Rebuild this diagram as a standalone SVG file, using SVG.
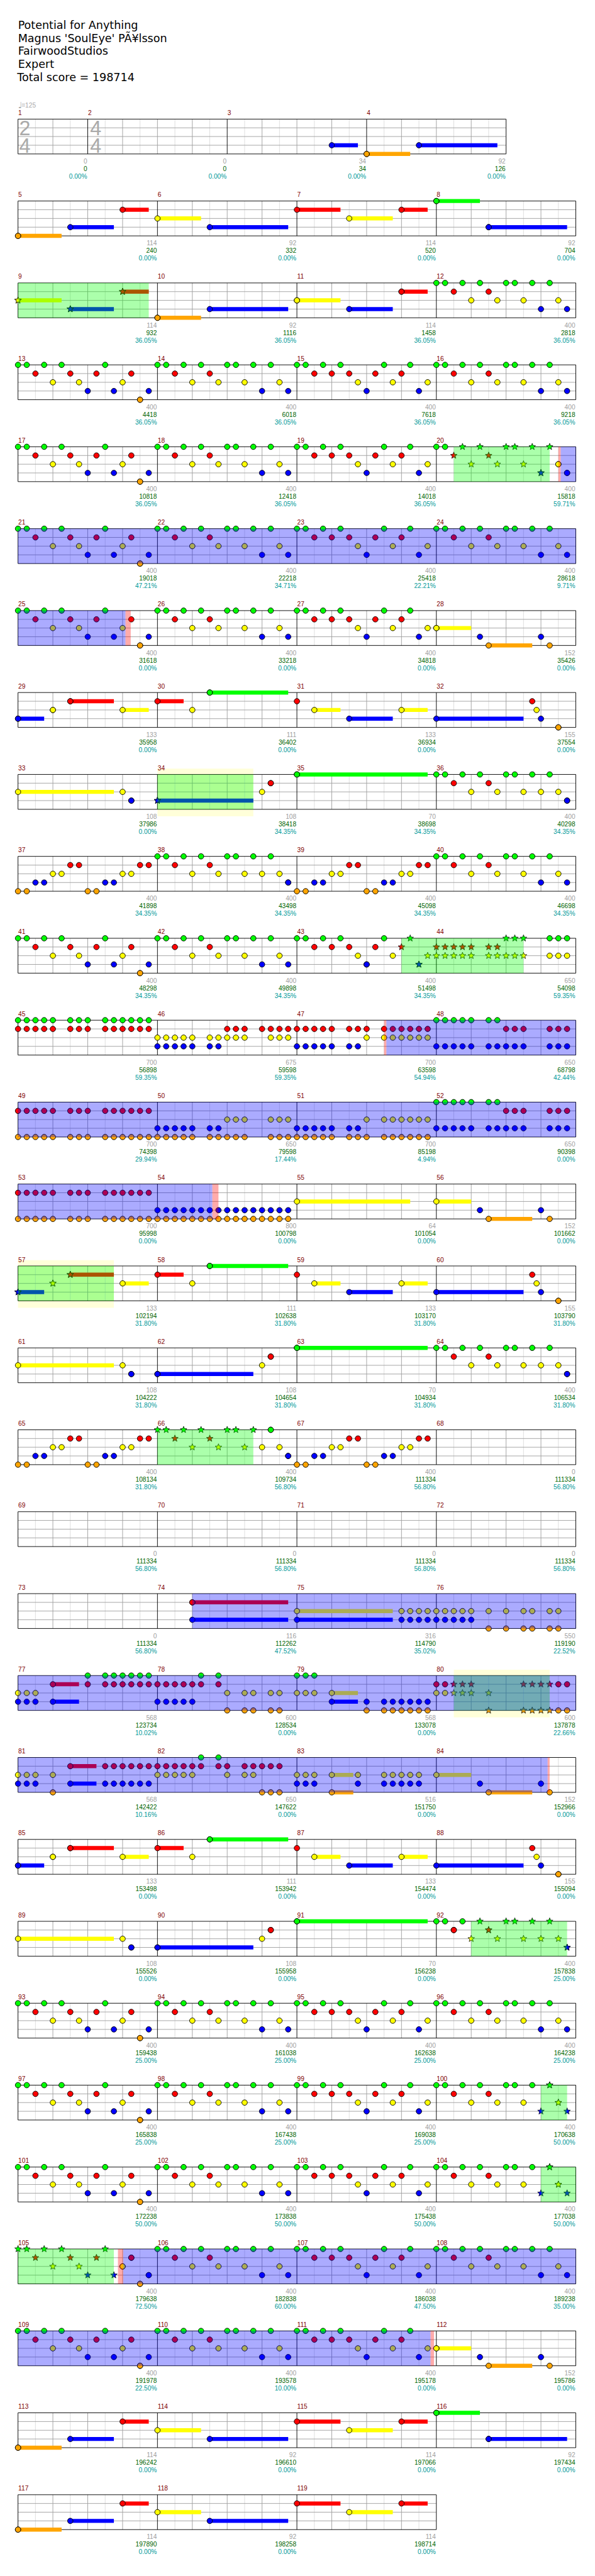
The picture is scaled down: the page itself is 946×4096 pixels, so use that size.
<svg xmlns="http://www.w3.org/2000/svg" width="946" height="4096" viewBox="0 0 946 4096">
<style>
.gl{stroke:#dcdcdc;fill:none}
.gd{stroke:#a0a0a0;fill:none}
.bk{stroke:#000;fill:none}
.x{fill:none;stroke-width:7}
.xG{stroke:#0f0}.xR{stroke:#f00}.xY{stroke:#ff0}.xB{stroke:#00f}.xO{stroke:#ffa500}
.G,.R,.Y,.B,.O,.sG,.sR,.sY,.sB,.sO{fill:none;stroke:none}
.G{marker-start:url(#nG);marker-mid:url(#nG);marker-end:url(#nG)}
.R{marker-start:url(#nR);marker-mid:url(#nR);marker-end:url(#nR)}
.Y{marker-start:url(#nY);marker-mid:url(#nY);marker-end:url(#nY)}
.B{marker-start:url(#nB);marker-mid:url(#nB);marker-end:url(#nB)}
.O{marker-start:url(#nO);marker-mid:url(#nO);marker-end:url(#nO)}
.sG{marker-start:url(#tG);marker-mid:url(#tG);marker-end:url(#tG)}
.sR{marker-start:url(#tR);marker-mid:url(#tR);marker-end:url(#tR)}
.sY{marker-start:url(#tY);marker-mid:url(#tY);marker-end:url(#tY)}
.sB{marker-start:url(#tB);marker-mid:url(#tB);marker-end:url(#tB)}
.sO{marker-start:url(#tO);marker-mid:url(#tO);marker-end:url(#tO)}
.sp{fill:#0f0;fill-opacity:.33}.od{fill:#00f;fill-opacity:.33}.pk{fill:#f00;fill-opacity:.33}.yl{fill:#ff0;fill-opacity:.15}
.M{font:11px 'Liberation Sans',Arial,sans-serif;fill:#800000}
.L{font:11px 'Liberation Sans',Arial,sans-serif;fill:#a0a0a0;text-anchor:end}
.c2{fill:#006400}.c3{fill:#009999}
.H{font:19px 'DejaVu Sans',sans-serif;fill:#000}
.TS{font:35px 'Liberation Sans',Arial,sans-serif;fill:#aaa}
</style>
<defs>
<path id="st" d="M0-6L1.5-2.1L5.7-1.9L2.5.8L3.5 4.9L0 2.6L-3.5 4.9L-2.5.8L-5.7-1.9L-1.5-2.1Z"/>
<marker id="nG" markerUnits="userSpaceOnUse" markerWidth="12" markerHeight="12" refX="6" refY="6" overflow="visible"><circle cx="6" cy="6" r="4.7" fill="#0f0" stroke="#000"/></marker>
<marker id="nR" markerUnits="userSpaceOnUse" markerWidth="12" markerHeight="12" refX="6" refY="6" overflow="visible"><circle cx="6" cy="6" r="4.7" fill="#f00" stroke="#000"/></marker>
<marker id="nY" markerUnits="userSpaceOnUse" markerWidth="12" markerHeight="12" refX="6" refY="6" overflow="visible"><circle cx="6" cy="6" r="4.7" fill="#ff0" stroke="#000"/></marker>
<marker id="nB" markerUnits="userSpaceOnUse" markerWidth="12" markerHeight="12" refX="6" refY="6" overflow="visible"><circle cx="6" cy="6" r="4.7" fill="#00f" stroke="#000"/></marker>
<marker id="nO" markerUnits="userSpaceOnUse" markerWidth="12" markerHeight="12" refX="6" refY="6" overflow="visible"><circle cx="6" cy="6" r="4.7" fill="#ffa500" stroke="#000"/></marker>
<marker id="tG" markerUnits="userSpaceOnUse" markerWidth="14" markerHeight="14" refX="7" refY="7" overflow="visible"><use href="#st" x="7" y="7" fill="#0f0" stroke="#000" stroke-width=".8"/></marker>
<marker id="tR" markerUnits="userSpaceOnUse" markerWidth="14" markerHeight="14" refX="7" refY="7" overflow="visible"><use href="#st" x="7" y="7" fill="#f00" stroke="#000" stroke-width=".8"/></marker>
<marker id="tY" markerUnits="userSpaceOnUse" markerWidth="14" markerHeight="14" refX="7" refY="7" overflow="visible"><use href="#st" x="7" y="7" fill="#ff0" stroke="#000" stroke-width=".8"/></marker>
<marker id="tB" markerUnits="userSpaceOnUse" markerWidth="14" markerHeight="14" refX="7" refY="7" overflow="visible"><use href="#st" x="7" y="7" fill="#00f" stroke="#000" stroke-width=".8"/></marker>
<marker id="tO" markerUnits="userSpaceOnUse" markerWidth="14" markerHeight="14" refX="7" refY="7" overflow="visible"><use href="#st" x="7" y="7" fill="#ffa500" stroke="#000" stroke-width=".8"/></marker>
<g id="m"><path class="gl" d="M30 0V60M90 0V60M150 0V60M210 0V60"/><path class="gd" d="M60 0V60M120 0V60M180 0V60"/></g>
<g id="R4"><use href="#m"/><use href="#m" x="240"/><use href="#m" x="480"/><use href="#m" x="720"/><path class="gd" d="M0 15H960M0 30H960M0 45H960"/><path class="bk" d="M0 0H960M0 60H960M0 0V60M240 0V60M480 0V60M720 0V60M960 0V60"/></g>
<g id="R0"><path class="gl" d="M30 0V60M90 0V60"/><path class="gd" d="M60 0V60"/><use href="#m" x="120"/><use href="#m" x="360"/><use href="#m" x="600"/><path class="gd" d="M0 15H840M0 30H840M0 45H840"/><path class="bk" d="M0 0H840M0 60H840M0 0V60M120 0V60M360 0V60M600 0V60M840 0V60"/></g>
<g id="R3"><use href="#m"/><use href="#m" x="240"/><use href="#m" x="480"/><path class="gd" d="M0 15H720M0 30H720M0 45H720"/><path class="bk" d="M0 0H720M0 60H720M0 0V60M240 0V60M480 0V60M720 0V60"/></g>
<g id="PA"><path class="G" d="M0 0H15H45H75H150"/><path class="R" d="M30 15H90H135H195"/><path class="Y" d="M60 30H105H180"/><path class="B" d="M120 45H165H225"/><path class="O" d="M210 60h0"/></g>
<g id="PB"><path class="G" d="M0 0H15H45H75H120H135H165H195"/><path class="R" d="M30 15H90"/><path class="Y" d="M60 30H105H150H210"/><path class="B" d="M180 45H225"/></g>
<g id="PC"><path class="G" d="M0 0H15H45H75H150H195"/><path class="R" d="M30 15H60H90H135H180"/><path class="Y" d="M105 30H165H225"/><path class="B" d="M120 45H210"/></g>
<g id="PE"><path class="G" d="M0 0H15H45H75H120H135H165H195"/><path class="R" d="M30 15H90"/><path class="Y" d="M60 30H105H150H180H210"/><path class="B" d="M225 45h0"/></g>
<g id="PF"><path class="O" d="M0 60H15H120H135"/><path class="B" d="M30 45H45H150H165"/><path class="Y" d="M60 30H75H180H195"/><path class="R" d="M90 15H105H210H225"/></g>
<g id="PBs"><path class="G" d="M0 0H15H45H75H120H135H165"/><path class="R" d="M30 15H90"/><path class="Y" d="M60 30H105H150"/><path class="sG" d="M195 0h0"/><path class="sY" d="M210 30h0"/><path class="sB" d="M180 45H225"/></g>
<g id="S1b"><path class="x xB" d="M0 45H45M570 45H645M720 45H870"/><path class="x xR" d="M90 15H165M240 15H285"/><path class="x xY" d="M180 30H225M510 30H555M660 30H705"/><path class="x xG" d="M330 0H465"/><path class="B" d="M570 45H720H900"/><path class="R" d="M240 15H480H885"/><path class="Y" d="M180 30H300H510H660H892.5"/><path class="G" d="M330 0h0"/><path class="O" d="M930 60h0"/></g>
<g id="S1a"><path class="B" d="M0 45h0"/><path class="Y" d="M60 30h0"/><path class="R" d="M90 15h0"/></g>
<g id="S2a"><path class="x xY" d="M0 30H165"/><path class="x xB" d="M240 45H405"/><path class="x xG" d="M480 0H705"/><path class="Y" d="M0 30H180H420"/><path class="B" d="M195 45h0"/><path class="R" d="M435 15h0"/><path class="G" d="M480 0h0"/></g>
<g id="S3a"><path class="x xO" d="M0 60H75"/><path class="x xB" d="M90 45H165M330 45H465"/><path class="x xR" d="M180 15H225M480 15H555M660 15H705"/><path class="x xY" d="M240 30H315M570 30H645"/><path class="O" d="M0 60h0"/><path class="B" d="M90 45H330"/><path class="R" d="M180 15H480H660"/><path class="Y" d="M240 30H570"/></g>
<g id="S3b"><path class="x xG" d="M720 0H795"/><path class="x xB" d="M810 45H945"/><path class="G" d="M720 0h0"/><path class="B" d="M810 45h0"/></g>
<g id="E28"><path class="x xY" d="M720 30H780"/><path class="x xO" d="M810 60H885"/><path class="Y" d="M720 30h0"/><path class="B" d="M795 45H900"/><path class="O" d="M810 60H915"/></g>
</defs>
<rect width="946" height="4096" fill="#fff"/>
<g transform="scale(.9238)">
<g id="header" class="H"><text x="31" y="49.3">Potential for Anything</text><text x="31" y="72">Magnus 'SoulEye' PÃ¥lsson</text><text x="31" y="94.7">FairwoodStudios</text><text x="31" y="117.3">Expert</text><text x="29.5" y="140">Total score = 198714</text></g>
<g id="tempo"><text x="31" y="186" style="font:15px 'DejaVu Sans',sans-serif;fill:#aaa">♩</text><text x="37" y="185" style="font:11px 'Liberation Sans',sans-serif;fill:#aaa">=125</text></g>

<g id="row0" transform="translate(31,205)"><use href="#R0"/>
<text class="TS"><tspan x="2" y="28">2</tspan><tspan x="2" y="58">4</tspan><tspan x="124" y="28">4</tspan><tspan x="124" y="58">4</tspan></text>
<path class="x xB" d="M540 45H585M690 45H825"/><path class="x xO" d="M600 60H675"/><path class="B" d="M540 45H690"/><path class="O" d="M600 60h0"/>
<text class="M" y="-7"><tspan x=".5">1</tspan><tspan x="120.5">2</tspan><tspan x="360.5">3</tspan><tspan x="600.5">4</tspan></text>
<text class="L" x="119" y="76.5">0<tspan class="c2" x="119" dy="13">0</tspan><tspan class="c3" x="119" dy="13">0.00%</tspan></text>
<text class="L" x="359" y="76.5">0<tspan class="c2" x="359" dy="13">0</tspan><tspan class="c3" x="359" dy="13">0.00%</tspan></text>
<text class="L" x="599" y="76.5">34<tspan class="c2" x="599" dy="13">34</tspan><tspan class="c3" x="599" dy="13">0.00%</tspan></text>
<text class="L" x="839" y="76.5">92<tspan class="c2" x="839" dy="13">126</tspan><tspan class="c3" x="839" dy="13">0.00%</tspan></text>
</g>

<g id="row1" transform="translate(31,346)"><use href="#R4"/>
<use href="#S3a"/><use href="#S3b"/>
<text class="M" y="-7"><tspan x=".5">5</tspan><tspan x="240.5">6</tspan><tspan x="480.5">7</tspan><tspan x="720.5">8</tspan></text>
<text class="L" x="239" y="76.5">114<tspan class="c2" x="239" dy="13">240</tspan><tspan class="c3" x="239" dy="13">0.00%</tspan></text>
<text class="L" x="479" y="76.5">92<tspan class="c2" x="479" dy="13">332</tspan><tspan class="c3" x="479" dy="13">0.00%</tspan></text>
<text class="L" x="719" y="76.5">114<tspan class="c2" x="719" dy="13">520</tspan><tspan class="c3" x="719" dy="13">0.00%</tspan></text>
<text class="L" x="959" y="76.5">92<tspan class="c2" x="959" dy="13">704</tspan><tspan class="c3" x="959" dy="13">0.00%</tspan></text>
</g>

<g id="row2" transform="translate(31,487)"><use href="#R4"/>
<path class="x xY" d="M0 30H75M480 30H555"/><path class="x xB" d="M90 45H165M330 45H465M570 45H645"/><path class="x xR" d="M180 15H225M660 15H705"/><path class="x xO" d="M240 60H315"/>
<path class="sY" d="M0 30h0"/><path class="sB" d="M90 45h0"/><path class="sR" d="M180 15h0"/><path class="O" d="M240 60h0"/><path class="B" d="M330 45H570"/><path class="Y" d="M480 30h0"/><path class="R" d="M660 15h0"/>
<use href="#PB" x="720"/>
<rect class="sp" width="225" height="60"/>
<text class="M" y="-7"><tspan x=".5">9</tspan><tspan x="240.5">10</tspan><tspan x="480.5">11</tspan><tspan x="720.5">12</tspan></text>
<text class="L" x="239" y="76.5">114<tspan class="c2" x="239" dy="13">932</tspan><tspan class="c3" x="239" dy="13">36.05%</tspan></text>
<text class="L" x="479" y="76.5">92<tspan class="c2" x="479" dy="13">1116</tspan><tspan class="c3" x="479" dy="13">36.05%</tspan></text>
<text class="L" x="719" y="76.5">114<tspan class="c2" x="719" dy="13">1458</tspan><tspan class="c3" x="719" dy="13">36.05%</tspan></text>
<text class="L" x="959" y="76.5">400<tspan class="c2" x="959" dy="13">2818</tspan><tspan class="c3" x="959" dy="13">36.05%</tspan></text>
</g>

<g id="row3" transform="translate(31,628)"><use href="#R4"/>
<use href="#PA"/><use href="#PB" x="240"/><use href="#PC" x="480"/><use href="#PB" x="720"/>
<text class="M" y="-7"><tspan x=".5">13</tspan><tspan x="240.5">14</tspan><tspan x="480.5">15</tspan><tspan x="720.5">16</tspan></text>
<text class="L" x="239" y="76.5">400<tspan class="c2" x="239" dy="13">4418</tspan><tspan class="c3" x="239" dy="13">36.05%</tspan></text>
<text class="L" x="479" y="76.5">400<tspan class="c2" x="479" dy="13">6018</tspan><tspan class="c3" x="479" dy="13">36.05%</tspan></text>
<text class="L" x="719" y="76.5">400<tspan class="c2" x="719" dy="13">7618</tspan><tspan class="c3" x="719" dy="13">36.05%</tspan></text>
<text class="L" x="959" y="76.5">400<tspan class="c2" x="959" dy="13">9218</tspan><tspan class="c3" x="959" dy="13">36.05%</tspan></text>
</g>

<g id="row4" transform="translate(31,769)"><use href="#R4"/>
<use href="#PA"/><use href="#PB" x="240"/><use href="#PC" x="480"/>
<path class="G" d="M720 0H735"/><path class="sG" d="M765 0H795H840H855H885H915"/><path class="sR" d="M750 15H810"/><path class="sY" d="M780 30H825H870"/><path class="Y" d="M930 30h0"/><path class="sB" d="M900 45h0"/><path class="B" d="M945 45h0"/>
<rect class="sp" x="750" width="165" height="60"/><rect class="pk" x="930" width="4" height="60"/><rect class="od" x="934" width="26" height="60"/>
<text class="M" y="-7"><tspan x=".5">17</tspan><tspan x="240.5">18</tspan><tspan x="480.5">19</tspan><tspan x="720.5">20</tspan></text>
<text class="L" x="239" y="76.5">400<tspan class="c2" x="239" dy="13">10818</tspan><tspan class="c3" x="239" dy="13">36.05%</tspan></text>
<text class="L" x="479" y="76.5">400<tspan class="c2" x="479" dy="13">12418</tspan><tspan class="c3" x="479" dy="13">36.05%</tspan></text>
<text class="L" x="719" y="76.5">400<tspan class="c2" x="719" dy="13">14018</tspan><tspan class="c3" x="719" dy="13">36.05%</tspan></text>
<text class="L" x="959" y="76.5">400<tspan class="c2" x="959" dy="13">15818</tspan><tspan class="c3" x="959" dy="13">59.71%</tspan></text>
</g>

<g id="row5" transform="translate(31,910)"><use href="#R4"/>
<use href="#PA"/><use href="#PB" x="240"/><use href="#PC" x="480"/><use href="#PB" x="720"/>
<rect class="od" width="960" height="60"/>
<text class="M" y="-7"><tspan x=".5">21</tspan><tspan x="240.5">22</tspan><tspan x="480.5">23</tspan><tspan x="720.5">24</tspan></text>
<text class="L" x="239" y="76.5">400<tspan class="c2" x="239" dy="13">19018</tspan><tspan class="c3" x="239" dy="13">47.21%</tspan></text>
<text class="L" x="479" y="76.5">400<tspan class="c2" x="479" dy="13">22218</tspan><tspan class="c3" x="479" dy="13">34.71%</tspan></text>
<text class="L" x="719" y="76.5">400<tspan class="c2" x="719" dy="13">25418</tspan><tspan class="c3" x="719" dy="13">22.21%</tspan></text>
<text class="L" x="959" y="76.5">400<tspan class="c2" x="959" dy="13">28618</tspan><tspan class="c3" x="959" dy="13">9.71%</tspan></text>
</g>

<g id="row6" transform="translate(31,1051)"><use href="#R4"/>
<use href="#PA"/><use href="#PB" x="240"/><use href="#PC" x="480"/><use href="#E28"/>
<rect class="od" width="185" height="60"/><rect class="pk" x="185" width="9" height="60"/>
<text class="M" y="-7"><tspan x=".5">25</tspan><tspan x="240.5">26</tspan><tspan x="480.5">27</tspan><tspan x="720.5">28</tspan></text>
<text class="L" x="239" y="76.5">400<tspan class="c2" x="239" dy="13">31618</tspan><tspan class="c3" x="239" dy="13">0.00%</tspan></text>
<text class="L" x="479" y="76.5">400<tspan class="c2" x="479" dy="13">33218</tspan><tspan class="c3" x="479" dy="13">0.00%</tspan></text>
<text class="L" x="719" y="76.5">400<tspan class="c2" x="719" dy="13">34818</tspan><tspan class="c3" x="719" dy="13">0.00%</tspan></text>
<text class="L" x="959" y="76.5">152<tspan class="c2" x="959" dy="13">35426</tspan><tspan class="c3" x="959" dy="13">0.00%</tspan></text>
</g>

<g id="row7" transform="translate(31,1192)"><use href="#R4"/>
<use href="#S1b"/><use href="#S1a"/>
<text class="M" y="-7"><tspan x=".5">29</tspan><tspan x="240.5">30</tspan><tspan x="480.5">31</tspan><tspan x="720.5">32</tspan></text>
<text class="L" x="239" y="76.5">133<tspan class="c2" x="239" dy="13">35958</tspan><tspan class="c3" x="239" dy="13">0.00%</tspan></text>
<text class="L" x="479" y="76.5">111<tspan class="c2" x="479" dy="13">36402</tspan><tspan class="c3" x="479" dy="13">0.00%</tspan></text>
<text class="L" x="719" y="76.5">133<tspan class="c2" x="719" dy="13">36934</tspan><tspan class="c3" x="719" dy="13">0.00%</tspan></text>
<text class="L" x="959" y="76.5">155<tspan class="c2" x="959" dy="13">37554</tspan><tspan class="c3" x="959" dy="13">0.00%</tspan></text>
</g>

<g id="row8" transform="translate(31,1333)"><rect class="yl" x="240" y="-10" width="165" height="82"/><use href="#R4"/>
<use href="#S2a"/><use href="#PE" x="720"/><path class="sB" d="M240 45h0"/>
<rect class="sp" x="240" width="165" height="60"/>
<text class="M" y="-7"><tspan x=".5">33</tspan><tspan x="240.5">34</tspan><tspan x="480.5">35</tspan><tspan x="720.5">36</tspan></text>
<text class="L" x="239" y="76.5">108<tspan class="c2" x="239" dy="13">37986</tspan><tspan class="c3" x="239" dy="13">0.00%</tspan></text>
<text class="L" x="479" y="76.5">108<tspan class="c2" x="479" dy="13">38418</tspan><tspan class="c3" x="479" dy="13">34.35%</tspan></text>
<text class="L" x="719" y="76.5">70<tspan class="c2" x="719" dy="13">38698</tspan><tspan class="c3" x="719" dy="13">34.35%</tspan></text>
<text class="L" x="959" y="76.5">400<tspan class="c2" x="959" dy="13">40298</tspan><tspan class="c3" x="959" dy="13">34.35%</tspan></text>
</g>

<g id="row9" transform="translate(31,1474)"><use href="#R4"/>
<use href="#PF"/><use href="#PE" x="240"/><use href="#PF" x="480"/><use href="#PB" x="720"/>
<text class="M" y="-7"><tspan x=".5">37</tspan><tspan x="240.5">38</tspan><tspan x="480.5">39</tspan><tspan x="720.5">40</tspan></text>
<text class="L" x="239" y="76.5">400<tspan class="c2" x="239" dy="13">41898</tspan><tspan class="c3" x="239" dy="13">34.35%</tspan></text>
<text class="L" x="479" y="76.5">400<tspan class="c2" x="479" dy="13">43498</tspan><tspan class="c3" x="479" dy="13">34.35%</tspan></text>
<text class="L" x="719" y="76.5">400<tspan class="c2" x="719" dy="13">45098</tspan><tspan class="c3" x="719" dy="13">34.35%</tspan></text>
<text class="L" x="959" y="76.5">400<tspan class="c2" x="959" dy="13">46698</tspan><tspan class="c3" x="959" dy="13">34.35%</tspan></text>
</g>

<g id="row10" transform="translate(31,1615)"><use href="#R4"/>
<use href="#PA"/><use href="#PB" x="240"/>
<path class="G" d="M480 0H495H525H555H630H915H930H945"/><path class="R" d="M510 15H540H570H615"/><path class="Y" d="M585 30H645H915H930H945"/><path class="B" d="M600 45h0"/>
<path class="sG" d="M675 0H840H855H870"/><path class="sR" d="M660 15H720H735H750H765H780H810H825"/><path class="sY" d="M705 30H720H735H750H765H780H810H825H840H855H870"/><path class="sB" d="M690 45h0"/>
<rect class="sp" x="660" width="210" height="60"/>
<text class="M" y="-7"><tspan x=".5">41</tspan><tspan x="240.5">42</tspan><tspan x="480.5">43</tspan><tspan x="720.5">44</tspan></text>
<text class="L" x="239" y="76.5">400<tspan class="c2" x="239" dy="13">48298</tspan><tspan class="c3" x="239" dy="13">34.35%</tspan></text>
<text class="L" x="479" y="76.5">400<tspan class="c2" x="479" dy="13">49898</tspan><tspan class="c3" x="479" dy="13">34.35%</tspan></text>
<text class="L" x="719" y="76.5">400<tspan class="c2" x="719" dy="13">51498</tspan><tspan class="c3" x="719" dy="13">34.35%</tspan></text>
<text class="L" x="959" y="76.5">650<tspan class="c2" x="959" dy="13">54098</tspan><tspan class="c3" x="959" dy="13">59.35%</tspan></text>
</g>

<g id="row11" transform="translate(31,1756)"><use href="#R4"/>
<path class="G" d="M0 0H15H30H45H60H90H105H120H150H165H180H195H210H225H720H735H750H765H780H810H825"/>
<path class="R" d="M0 15H15H30H45H60H90H105H120H150H165H180H195H210H225H360H375H390H420H435H450H465H480H495H510H525H540H570H585H600H630H645H660H675H690H705H840H855H870H915H930H945"/>
<path class="Y" d="M240 30H255H270H285H300H330H345H360H375H390H435H450H465H600H630H645H660H675H690H705"/>
<path class="B" d="M240 45H255H270H285H300H330H345H480H495H510H525H540H570H585H720H735H750H765H780H810H825H840H855H870H915H930H945"/>
<rect class="pk" x="630" width="4" height="60"/><rect class="od" x="634" width="326" height="60"/>
<text class="M" y="-7"><tspan x=".5">45</tspan><tspan x="240.5">46</tspan><tspan x="480.5">47</tspan><tspan x="720.5">48</tspan></text>
<text class="L" x="239" y="76.5">700<tspan class="c2" x="239" dy="13">56898</tspan><tspan class="c3" x="239" dy="13">59.35%</tspan></text>
<text class="L" x="479" y="76.5">675<tspan class="c2" x="479" dy="13">59598</tspan><tspan class="c3" x="479" dy="13">59.35%</tspan></text>
<text class="L" x="719" y="76.5">700<tspan class="c2" x="719" dy="13">63598</tspan><tspan class="c3" x="719" dy="13">54.94%</tspan></text>
<text class="L" x="959" y="76.5">650<tspan class="c2" x="959" dy="13">68798</tspan><tspan class="c3" x="959" dy="13">42.44%</tspan></text>
</g>

<g id="row12" transform="translate(31,1897)"><use href="#R4"/>
<path class="G" d="M720 0H735H750H765H780H810H825"/>
<path class="R" d="M0 15H15H30H45H60H90H105H120H150H165H180H195H210H225H840H855H870H915H930H945"/>
<path class="Y" d="M360 30H375H390H435H450H465H600H630H645H660H675H690H705"/>
<path class="B" d="M240 45H255H270H285H300H330H345H480H495H510H525H540H570H585H720H735H750H765H780H810H825H840H855H870H915H930H945"/>
<path class="O" d="M0 60H15H30H45H60H90H105H120H150H165H180H195H210H225H240H255H270H285H300H330H345H360H375H390H435H450H465H480H495H510H525H540H570H585H600H630H645H660H675H690H705"/>
<rect class="od" width="960" height="60"/>
<text class="M" y="-7"><tspan x=".5">49</tspan><tspan x="240.5">50</tspan><tspan x="480.5">51</tspan><tspan x="720.5">52</tspan></text>
<text class="L" x="239" y="76.5">700<tspan class="c2" x="239" dy="13">74398</tspan><tspan class="c3" x="239" dy="13">29.94%</tspan></text>
<text class="L" x="479" y="76.5">650<tspan class="c2" x="479" dy="13">79598</tspan><tspan class="c3" x="479" dy="13">17.44%</tspan></text>
<text class="L" x="719" y="76.5">700<tspan class="c2" x="719" dy="13">85198</tspan><tspan class="c3" x="719" dy="13">4.94%</tspan></text>
<text class="L" x="959" y="76.5">650<tspan class="c2" x="959" dy="13">90398</tspan><tspan class="c3" x="959" dy="13">0.00%</tspan></text>
</g>

<g id="row13" transform="translate(31,2038)"><use href="#R4"/>
<path class="x xY" d="M480 30H675M720 30H780"/><path class="x xO" d="M810 60H885"/>
<path class="R" d="M0 15H15H30H45H60H90H105H120H150H165H180H195H210H225"/>
<path class="Y" d="M480 30H720"/>
<path class="B" d="M240 45H255H270H285H300H315H330H345H360H375H390H405H420H435H450H465H795H900"/>
<path class="O" d="M0 60H15H30H45H60H90H105H120H150H165H180H195H210H225H240H255H270H285H300H315H330H345H360H375H390H405H420H435H450H465H810H915"/>
<rect class="od" width="334.5" height="60"/><rect class="pk" x="334.5" width="10.5" height="60"/>
<text class="M" y="-7"><tspan x=".5">53</tspan><tspan x="240.5">54</tspan><tspan x="480.5">55</tspan><tspan x="720.5">56</tspan></text>
<text class="L" x="239" y="76.5">700<tspan class="c2" x="239" dy="13">95998</tspan><tspan class="c3" x="239" dy="13">0.00%</tspan></text>
<text class="L" x="479" y="76.5">800<tspan class="c2" x="479" dy="13">100798</tspan><tspan class="c3" x="479" dy="13">0.00%</tspan></text>
<text class="L" x="719" y="76.5">64<tspan class="c2" x="719" dy="13">101054</tspan><tspan class="c3" x="719" dy="13">0.00%</tspan></text>
<text class="L" x="959" y="76.5">152<tspan class="c2" x="959" dy="13">101662</tspan><tspan class="c3" x="959" dy="13">0.00%</tspan></text>
</g>

<g id="row14" transform="translate(31,2179)"><rect class="yl" y="-10" width="165" height="82"/><use href="#R4"/>
<use href="#S1b"/><path class="sB" d="M0 45h0"/><path class="sY" d="M60 30h0"/><path class="sR" d="M90 15h0"/>
<rect class="sp" width="165" height="60"/>
<text class="M" y="-7"><tspan x=".5">57</tspan><tspan x="240.5">58</tspan><tspan x="480.5">59</tspan><tspan x="720.5">60</tspan></text>
<text class="L" x="239" y="76.5">133<tspan class="c2" x="239" dy="13">102194</tspan><tspan class="c3" x="239" dy="13">31.80%</tspan></text>
<text class="L" x="479" y="76.5">111<tspan class="c2" x="479" dy="13">102638</tspan><tspan class="c3" x="479" dy="13">31.80%</tspan></text>
<text class="L" x="719" y="76.5">133<tspan class="c2" x="719" dy="13">103170</tspan><tspan class="c3" x="719" dy="13">31.80%</tspan></text>
<text class="L" x="959" y="76.5">155<tspan class="c2" x="959" dy="13">103790</tspan><tspan class="c3" x="959" dy="13">31.80%</tspan></text>
</g>

<g id="row15" transform="translate(31,2320)"><use href="#R4"/>
<use href="#S2a"/><use href="#PE" x="720"/><path class="B" d="M240 45h0"/>
<text class="M" y="-7"><tspan x=".5">61</tspan><tspan x="240.5">62</tspan><tspan x="480.5">63</tspan><tspan x="720.5">64</tspan></text>
<text class="L" x="239" y="76.5">108<tspan class="c2" x="239" dy="13">104222</tspan><tspan class="c3" x="239" dy="13">31.80%</tspan></text>
<text class="L" x="479" y="76.5">108<tspan class="c2" x="479" dy="13">104654</tspan><tspan class="c3" x="479" dy="13">31.80%</tspan></text>
<text class="L" x="719" y="76.5">70<tspan class="c2" x="719" dy="13">104934</tspan><tspan class="c3" x="719" dy="13">31.80%</tspan></text>
<text class="L" x="959" y="76.5">400<tspan class="c2" x="959" dy="13">106534</tspan><tspan class="c3" x="959" dy="13">31.80%</tspan></text>
</g>

<g id="row16" transform="translate(31,2461)"><use href="#R4"/>
<use href="#PF"/><use href="#PF" x="480"/>
<path class="sG" d="M240 0H255H285H315H360H375H405"/><path class="sR" d="M270 15H330"/><path class="sY" d="M300 30H345H390"/><path class="G" d="M435 0h0"/><path class="Y" d="M420 30H450"/><path class="B" d="M465 45h0"/>
<rect class="sp" x="240" width="165" height="60"/>
<text class="M" y="-7"><tspan x=".5">65</tspan><tspan x="240.5">66</tspan><tspan x="480.5">67</tspan><tspan x="720.5">68</tspan></text>
<text class="L" x="239" y="76.5">400<tspan class="c2" x="239" dy="13">108134</tspan><tspan class="c3" x="239" dy="13">31.80%</tspan></text>
<text class="L" x="479" y="76.5">400<tspan class="c2" x="479" dy="13">109734</tspan><tspan class="c3" x="479" dy="13">56.80%</tspan></text>
<text class="L" x="719" y="76.5">400<tspan class="c2" x="719" dy="13">111334</tspan><tspan class="c3" x="719" dy="13">56.80%</tspan></text>
<text class="L" x="959" y="76.5">0<tspan class="c2" x="959" dy="13">111334</tspan><tspan class="c3" x="959" dy="13">56.80%</tspan></text>
</g>

<g id="row17" transform="translate(31,2602)"><use href="#R4"/>
<text class="M" y="-7"><tspan x=".5">69</tspan><tspan x="240.5">70</tspan><tspan x="480.5">71</tspan><tspan x="720.5">72</tspan></text>
<text class="L" x="239" y="76.5">0<tspan class="c2" x="239" dy="13">111334</tspan><tspan class="c3" x="239" dy="13">56.80%</tspan></text>
<text class="L" x="479" y="76.5">0<tspan class="c2" x="479" dy="13">111334</tspan><tspan class="c3" x="479" dy="13">56.80%</tspan></text>
<text class="L" x="719" y="76.5">0<tspan class="c2" x="719" dy="13">111334</tspan><tspan class="c3" x="719" dy="13">56.80%</tspan></text>
<text class="L" x="959" y="76.5">0<tspan class="c2" x="959" dy="13">111334</tspan><tspan class="c3" x="959" dy="13">56.80%</tspan></text>
</g>

<g id="row18" transform="translate(31,2743)"><use href="#R4"/>
<path class="x xR" d="M300 15H465"/><path class="x xB" d="M300 45H465M480 45H645"/><path class="x xY" d="M480 30H645"/>
<path class="R" d="M300 15h0"/>
<path class="B" d="M300 45H480H660H675H690H705H720H735H750H765H780"/>
<path class="Y" d="M480 30H660H675H690H705H720H735H750H765H780H810H840H870H885H915H930"/>
<path class="O" d="M810 60H840H870H885H915H930"/>
<rect class="od" x="300" width="660" height="60"/>
<text class="M" y="-7"><tspan x=".5">73</tspan><tspan x="240.5">74</tspan><tspan x="480.5">75</tspan><tspan x="720.5">76</tspan></text>
<text class="L" x="239" y="76.5">0<tspan class="c2" x="239" dy="13">111334</tspan><tspan class="c3" x="239" dy="13">56.80%</tspan></text>
<text class="L" x="479" y="76.5">116<tspan class="c2" x="479" dy="13">112262</tspan><tspan class="c3" x="479" dy="13">47.52%</tspan></text>
<text class="L" x="719" y="76.5">316<tspan class="c2" x="719" dy="13">114790</tspan><tspan class="c3" x="719" dy="13">35.02%</tspan></text>
<text class="L" x="959" y="76.5">550<tspan class="c2" x="959" dy="13">119190</tspan><tspan class="c3" x="959" dy="13">22.52%</tspan></text>
</g>

<g id="row19" transform="translate(31,2884)"><rect class="yl" x="750" y="-10" width="165" height="82"/><use href="#R4"/>
<path class="x xR" d="M60 15H105"/><path class="x xB" d="M60 45H105M540 45H585"/><path class="x xY" d="M540 30H585"/>
<path class="G" d="M120 0H150H165H180H195H210H225H315H345H480H495H510"/>
<path class="R" d="M60 15H120H150H165H180H195H210H225H240H255H270H285H300H315H345H720H735H930H945"/>
<path class="Y" d="M0 30H15H30H360H390H405H435H450H480H495H510H540H720H735"/>
<path class="B" d="M0 45H15H30H60H240H255H270H285H300H540H600H630H645H660H675H690H705"/>
<path class="O" d="M360 60H390H405H435H450H600H630H645H660H675H690H705H930H945"/>
<path class="sR" d="M750 15H765H780H870H885H900H915"/><path class="sY" d="M750 30H765H780H810"/><path class="sO" d="M810 60H870H885H900H915"/>
<rect class="sp" x="750" width="165" height="60"/><rect class="od" width="960" height="60"/>
<text class="M" y="-7"><tspan x=".5">77</tspan><tspan x="240.5">78</tspan><tspan x="480.5">79</tspan><tspan x="720.5">80</tspan></text>
<text class="L" x="239" y="76.5">568<tspan class="c2" x="239" dy="13">123734</tspan><tspan class="c3" x="239" dy="13">10.02%</tspan></text>
<text class="L" x="479" y="76.5">600<tspan class="c2" x="479" dy="13">128534</tspan><tspan class="c3" x="479" dy="13">0.00%</tspan></text>
<text class="L" x="719" y="76.5">568<tspan class="c2" x="719" dy="13">133078</tspan><tspan class="c3" x="719" dy="13">0.00%</tspan></text>
<text class="L" x="959" y="76.5">600<tspan class="c2" x="959" dy="13">137878</tspan><tspan class="c3" x="959" dy="13">22.66%</tspan></text>
</g>

<g id="row20" transform="translate(31,3025)"><use href="#R4"/>
<path class="x xR" d="M90 15H135"/><path class="x xB" d="M90 45H135"/><path class="x xY" d="M540 30H577M720 30H780"/><path class="x xO" d="M540 60H577M810 60H885"/>
<path class="G" d="M315 0H345"/>
<path class="R" d="M90 15H150H165H180H195H210H225H240H255H270H285H300H315H345H360H390H405H420H435H450"/>
<path class="Y" d="M0 30H15H30H60H240H255H270H285H300H360H390H405H480H495H510H540H585H630H645H660H675H690H720"/>
<path class="B" d="M0 45H15H30H90H150H165H180H195H210H225H480H495H510H585H630H645H660H675H690H795H900"/>
<path class="O" d="M60 60H420H435H450H540H810H915"/>
<rect class="od" width="911.5" height="60"/><rect class="pk" x="911.5" width="3.5" height="60"/>
<text class="M" y="-7"><tspan x=".5">81</tspan><tspan x="240.5">82</tspan><tspan x="480.5">83</tspan><tspan x="720.5">84</tspan></text>
<text class="L" x="239" y="76.5">568<tspan class="c2" x="239" dy="13">142422</tspan><tspan class="c3" x="239" dy="13">10.16%</tspan></text>
<text class="L" x="479" y="76.5">650<tspan class="c2" x="479" dy="13">147622</tspan><tspan class="c3" x="479" dy="13">0.00%</tspan></text>
<text class="L" x="719" y="76.5">516<tspan class="c2" x="719" dy="13">151750</tspan><tspan class="c3" x="719" dy="13">0.00%</tspan></text>
<text class="L" x="959" y="76.5">152<tspan class="c2" x="959" dy="13">152966</tspan><tspan class="c3" x="959" dy="13">0.00%</tspan></text>
</g>

<g id="row21" transform="translate(31,3166)"><use href="#R4"/>
<use href="#S1b"/><use href="#S1a"/>
<text class="M" y="-7"><tspan x=".5">85</tspan><tspan x="240.5">86</tspan><tspan x="480.5">87</tspan><tspan x="720.5">88</tspan></text>
<text class="L" x="239" y="76.5">133<tspan class="c2" x="239" dy="13">153498</tspan><tspan class="c3" x="239" dy="13">0.00%</tspan></text>
<text class="L" x="479" y="76.5">111<tspan class="c2" x="479" dy="13">153942</tspan><tspan class="c3" x="479" dy="13">0.00%</tspan></text>
<text class="L" x="719" y="76.5">133<tspan class="c2" x="719" dy="13">154474</tspan><tspan class="c3" x="719" dy="13">0.00%</tspan></text>
<text class="L" x="959" y="76.5">155<tspan class="c2" x="959" dy="13">155094</tspan><tspan class="c3" x="959" dy="13">0.00%</tspan></text>
</g>

<g id="row22" transform="translate(31,3307)"><use href="#R4"/>
<use href="#S2a"/><path class="B" d="M240 45h0"/>
<path class="G" d="M720 0H735H765"/><path class="R" d="M750 15h0"/>
<path class="sY" d="M780 30H825H870H900H930"/><path class="sG" d="M795 0H840H855H885H915"/><path class="sR" d="M810 15h0"/><path class="sB" d="M945 45h0"/>
<rect class="sp" x="780" width="165" height="60"/>
<text class="M" y="-7"><tspan x=".5">89</tspan><tspan x="240.5">90</tspan><tspan x="480.5">91</tspan><tspan x="720.5">92</tspan></text>
<text class="L" x="239" y="76.5">108<tspan class="c2" x="239" dy="13">155526</tspan><tspan class="c3" x="239" dy="13">0.00%</tspan></text>
<text class="L" x="479" y="76.5">108<tspan class="c2" x="479" dy="13">155958</tspan><tspan class="c3" x="479" dy="13">0.00%</tspan></text>
<text class="L" x="719" y="76.5">70<tspan class="c2" x="719" dy="13">156238</tspan><tspan class="c3" x="719" dy="13">0.00%</tspan></text>
<text class="L" x="959" y="76.5">400<tspan class="c2" x="959" dy="13">157838</tspan><tspan class="c3" x="959" dy="13">25.00%</tspan></text>
</g>

<g id="row23" transform="translate(31,3448)"><use href="#R4"/>
<use href="#PA"/><use href="#PB" x="240"/><use href="#PC" x="480"/><use href="#PB" x="720"/>
<text class="M" y="-7"><tspan x=".5">93</tspan><tspan x="240.5">94</tspan><tspan x="480.5">95</tspan><tspan x="720.5">96</tspan></text>
<text class="L" x="239" y="76.5">400<tspan class="c2" x="239" dy="13">159438</tspan><tspan class="c3" x="239" dy="13">25.00%</tspan></text>
<text class="L" x="479" y="76.5">400<tspan class="c2" x="479" dy="13">161038</tspan><tspan class="c3" x="479" dy="13">25.00%</tspan></text>
<text class="L" x="719" y="76.5">400<tspan class="c2" x="719" dy="13">162638</tspan><tspan class="c3" x="719" dy="13">25.00%</tspan></text>
<text class="L" x="959" y="76.5">400<tspan class="c2" x="959" dy="13">164238</tspan><tspan class="c3" x="959" dy="13">25.00%</tspan></text>
</g>

<g id="row24" transform="translate(31,3589)"><use href="#R4"/>
<use href="#PA"/><use href="#PB" x="240"/><use href="#PC" x="480"/><use href="#PBs" x="720"/>
<rect class="sp" x="900" width="45" height="60"/>
<text class="M" y="-7"><tspan x=".5">97</tspan><tspan x="240.5">98</tspan><tspan x="480.5">99</tspan><tspan x="720.5">100</tspan></text>
<text class="L" x="239" y="76.5">400<tspan class="c2" x="239" dy="13">165838</tspan><tspan class="c3" x="239" dy="13">25.00%</tspan></text>
<text class="L" x="479" y="76.5">400<tspan class="c2" x="479" dy="13">167438</tspan><tspan class="c3" x="479" dy="13">25.00%</tspan></text>
<text class="L" x="719" y="76.5">400<tspan class="c2" x="719" dy="13">169038</tspan><tspan class="c3" x="719" dy="13">25.00%</tspan></text>
<text class="L" x="959" y="76.5">400<tspan class="c2" x="959" dy="13">170638</tspan><tspan class="c3" x="959" dy="13">50.00%</tspan></text>
</g>

<g id="row25" transform="translate(31,3730)"><use href="#R4"/>
<use href="#PA"/><use href="#PB" x="240"/><use href="#PC" x="480"/><use href="#PBs" x="720"/>
<rect class="sp" x="900" width="60" height="60"/>
<text class="M" y="-7"><tspan x=".5">101</tspan><tspan x="240.5">102</tspan><tspan x="480.5">103</tspan><tspan x="720.5">104</tspan></text>
<text class="L" x="239" y="76.5">400<tspan class="c2" x="239" dy="13">172238</tspan><tspan class="c3" x="239" dy="13">50.00%</tspan></text>
<text class="L" x="479" y="76.5">400<tspan class="c2" x="479" dy="13">173838</tspan><tspan class="c3" x="479" dy="13">50.00%</tspan></text>
<text class="L" x="719" y="76.5">400<tspan class="c2" x="719" dy="13">175438</tspan><tspan class="c3" x="719" dy="13">50.00%</tspan></text>
<text class="L" x="959" y="76.5">400<tspan class="c2" x="959" dy="13">177038</tspan><tspan class="c3" x="959" dy="13">50.00%</tspan></text>
</g>

<g id="row26" transform="translate(31,3871)"><use href="#R4"/>
<path class="sG" d="M0 0H15H45H75H150"/><path class="sR" d="M30 15H90H135"/><path class="sY" d="M60 30H105"/><path class="sB" d="M120 45H165"/>
<path class="R" d="M195 15h0"/><path class="Y" d="M180 30h0"/><path class="B" d="M225 45h0"/><path class="O" d="M210 60h0"/>
<use href="#PB" x="240"/><use href="#PC" x="480"/><use href="#PB" x="720"/>
<rect class="sp" width="165" height="60"/><rect class="pk" x="172" width="9" height="60"/><rect class="od" x="181" width="779" height="60"/>
<text class="M" y="-7"><tspan x=".5">105</tspan><tspan x="240.5">106</tspan><tspan x="480.5">107</tspan><tspan x="720.5">108</tspan></text>
<text class="L" x="239" y="76.5">400<tspan class="c2" x="239" dy="13">179638</tspan><tspan class="c3" x="239" dy="13">72.50%</tspan></text>
<text class="L" x="479" y="76.5">400<tspan class="c2" x="479" dy="13">182838</tspan><tspan class="c3" x="479" dy="13">60.00%</tspan></text>
<text class="L" x="719" y="76.5">400<tspan class="c2" x="719" dy="13">186038</tspan><tspan class="c3" x="719" dy="13">47.50%</tspan></text>
<text class="L" x="959" y="76.5">400<tspan class="c2" x="959" dy="13">189238</tspan><tspan class="c3" x="959" dy="13">35.00%</tspan></text>
</g>

<g id="row27" transform="translate(31,4012)"><use href="#R4"/>
<use href="#PA"/><use href="#PB" x="240"/><use href="#PC" x="480"/><use href="#E28"/>
<rect class="od" width="710" height="60"/><rect class="pk" x="710" width="6" height="60"/>
<text class="M" y="-7"><tspan x=".5">109</tspan><tspan x="240.5">110</tspan><tspan x="480.5">111</tspan><tspan x="720.5">112</tspan></text>
<text class="L" x="239" y="76.5">400<tspan class="c2" x="239" dy="13">191978</tspan><tspan class="c3" x="239" dy="13">22.50%</tspan></text>
<text class="L" x="479" y="76.5">400<tspan class="c2" x="479" dy="13">193578</tspan><tspan class="c3" x="479" dy="13">10.00%</tspan></text>
<text class="L" x="719" y="76.5">400<tspan class="c2" x="719" dy="13">195178</tspan><tspan class="c3" x="719" dy="13">0.00%</tspan></text>
<text class="L" x="959" y="76.5">152<tspan class="c2" x="959" dy="13">195786</tspan><tspan class="c3" x="959" dy="13">0.00%</tspan></text>
</g>

<g id="row28" transform="translate(31,4153)"><use href="#R4"/>
<use href="#S3a"/><use href="#S3b"/>
<text class="M" y="-7"><tspan x=".5">113</tspan><tspan x="240.5">114</tspan><tspan x="480.5">115</tspan><tspan x="720.5">116</tspan></text>
<text class="L" x="239" y="76.5">114<tspan class="c2" x="239" dy="13">196242</tspan><tspan class="c3" x="239" dy="13">0.00%</tspan></text>
<text class="L" x="479" y="76.5">92<tspan class="c2" x="479" dy="13">196610</tspan><tspan class="c3" x="479" dy="13">0.00%</tspan></text>
<text class="L" x="719" y="76.5">114<tspan class="c2" x="719" dy="13">197066</tspan><tspan class="c3" x="719" dy="13">0.00%</tspan></text>
<text class="L" x="959" y="76.5">92<tspan class="c2" x="959" dy="13">197434</tspan><tspan class="c3" x="959" dy="13">0.00%</tspan></text>
</g>

<g id="row29" transform="translate(31,4294)"><use href="#R3"/>
<use href="#S3a"/>
<text class="M" y="-7"><tspan x=".5">117</tspan><tspan x="240.5">118</tspan><tspan x="480.5">119</tspan></text>
<text class="L" x="239" y="76.5">114<tspan class="c2" x="239" dy="13">197890</tspan><tspan class="c3" x="239" dy="13">0.00%</tspan></text>
<text class="L" x="479" y="76.5">92<tspan class="c2" x="479" dy="13">198258</tspan><tspan class="c3" x="479" dy="13">0.00%</tspan></text>
<text class="L" x="719" y="76.5">114<tspan class="c2" x="719" dy="13">198714</tspan><tspan class="c3" x="719" dy="13">0.00%</tspan></text>
</g>
</g>
</svg>
